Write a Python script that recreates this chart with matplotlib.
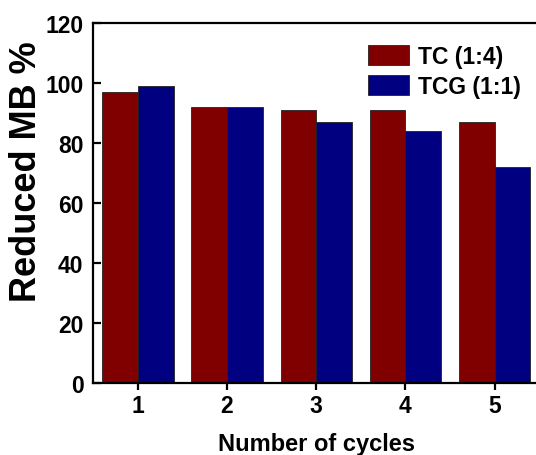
import numpy as np
import matplotlib
matplotlib.use('Agg')
from matplotlib import pyplot as plt

plt.rcParams['font.family'] = ['Liberation Sans', 'DejaVu Sans']
plt.rcParams['font.weight'] = 'bold'

cycles = [1, 2, 3, 4, 5]
tc = [97, 92, 91, 91, 87]
tcg = [99, 92, 87, 84, 72]
labels = ['TC (1:4)', 'TCG (1:1)']

fig = plt.figure(figsize=(5.36, 4.56), dpi=100)
ax = fig.add_axes([0.174, 0.158, 0.832, 0.789])

x = np.array(cycles)
w = 0.4
ax.bar(x - w/2, tc, w, color='#800000', edgecolor='#222222', linewidth=0.6, label=labels[0])
ax.bar(x + w/2, tcg, w, color='#000080', edgecolor='#222222', linewidth=0.6, label=labels[1])

ax.set_xlim(0.5, 5.5)
ax.set_ylim(0, 120)
ax.set_xticks(cycles)
ax.set_yticks(range(0, 121, 20))

for s in ax.spines.values():
    s.set_linewidth(1.6)
ax.tick_params(axis='y', direction='in', length=6, width=1.6, labelsize=16.5, pad=7)
ax.tick_params(axis='x', direction='out', length=5, width=1.6, labelsize=16.5, pad=3)

ax.set_xlabel('Number of cycles', fontsize=17, fontweight='bold', labelpad=10.5)
ax.set_ylabel('Reduced MB %', fontsize=26, fontweight='bold')
ax.yaxis.set_label_coords(-0.11, 0.59)

ax.legend(loc='upper left', frameon=False, fontsize=16.5, handlelength=1.8,
          handleheight=1.0, handletextpad=0.4, labelspacing=0.3,
          borderpad=0, borderaxespad=0, bbox_to_anchor=(0.616, 0.94))

fig.savefig('out.png', dpi=100)
